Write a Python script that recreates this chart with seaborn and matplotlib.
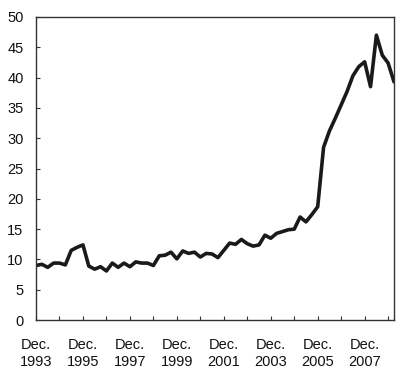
import numpy as np
import pandas as pd
import matplotlib
matplotlib.use("Agg")
import matplotlib.pyplot as plt
import seaborn as sns

# quarterly values, Dec. 1993 onwards
values = [
    9.0, 9.2, 8.7, 9.4, 9.4, 9.1, 11.5, 12.0, 12.4, 8.9,
    8.4, 8.8, 8.1, 9.4, 8.7, 9.4, 8.8, 9.6, 9.4, 9.4,
    9.0, 10.6, 10.7, 11.2, 10.1, 11.4, 11.0, 11.2, 10.4, 11.0,
    10.9, 10.3, 11.5, 12.7, 12.5, 13.3, 12.6, 12.2, 12.4, 14.0,
    13.5, 14.3, 14.6, 14.9, 15.0, 17.0, 16.2, 17.4, 18.7, 28.5,
    31.2, 33.3, 35.5, 37.7, 40.3, 41.8, 42.6, 38.5, 47.0, 43.7,
    42.4, 39.3,
]
tick_years = list(range(1993, 2009))
label_years = [1993, 1995, 1997, 1999, 2001, 2003, 2005, 2007]

df = pd.DataFrame({"t": np.arange(len(values)) * 0.25, "v": values})

sns.set_style("ticks")
plt.rcParams["font.family"] = ["Liberation Sans", "DejaVu Sans"]

fig = plt.figure(figsize=(4.0, 3.77), dpi=100)
ax = fig.add_axes([0.09, 0.151, 0.895, 0.804])

sns.lineplot(data=df, x="t", y="v", ax=ax, color="#1a1a1a", linewidth=2.6)

ax.set_xlim(0, 15.25)
ax.set_ylim(0, 50)
ax.set_yticks(range(0, 51, 5))
tick_pos = [y - 1993 for y in tick_years]
ax.set_xticks(tick_pos)
ax.set_xticklabels(["Dec.\n%d" % y if y in label_years else "" for y in tick_years])
ax.set_xlabel("")
ax.set_ylabel("")

for s in ax.spines.values():
    s.set_visible(True)
    s.set_color("#333333")
    s.set_linewidth(1.0)

ax.tick_params(axis="both", direction="in", length=3, width=0.8, color="#333333",
               labelsize=10.5, labelcolor="#111111")
ax.tick_params(axis="y", pad=9)
ax.tick_params(axis="x", pad=13)
for lab in ax.get_xticklabels():
    lab.set_linespacing(1.25)

fig.savefig("out.png", dpi=100)
